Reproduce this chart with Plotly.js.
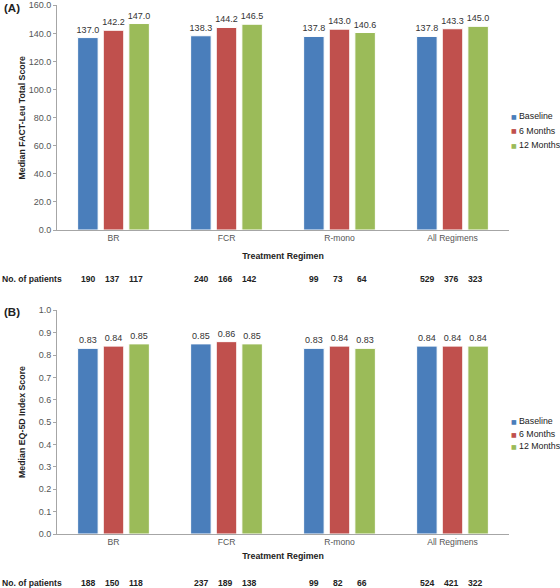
<!DOCTYPE html>
<html>
<head>
<meta charset="utf-8">
<script src="https://cdn.plot.ly/plotly-3.0.1.min.js"></script>
<style>html,body{margin:0;padding:0;background:#fff}#chart{width:560px;height:588px}</style>
</head>
<body>
<div id="chart"></div>
<script>
// ---- data ----
var categories = ['BR', 'FCR', 'R-mono', 'All Regimens'];
var seriesNames = ['Baseline', '6 Months', '12 Months'];

var factBaseline = [137.0, 138.3, 137.8, 137.8];
var fact6Months = [142.2, 144.2, 143.0, 143.3];
var fact12Months = [147.0, 146.5, 140.6, 145.0];

var eqBaseline = [0.83, 0.85, 0.83, 0.84];
var eq6Months = [0.84, 0.86, 0.84, 0.84];
var eq12Months = [0.85, 0.85, 0.83, 0.84];

var factPatientsBaseline = [190, 240, 99, 529];
var factPatients6Months = [137, 166, 73, 376];
var factPatients12Months = [117, 142, 64, 323];

var eqPatientsBaseline = [188, 237, 99, 524];
var eqPatients6Months = [150, 189, 82, 421];
var eqPatients12Months = [118, 138, 66, 322];

var panelLabels = ['(A)', '(B)'];
var yTitles = ['Median FACT-Leu Total Score', 'Median EQ-5D Index Score'];
var xTitle = 'Treatment Regimen';
var patientsLabel = 'No. of patients';

// ---- styles ----
var colors = ['#4a7ebb', '#c0504d', '#9bbb59'];
var FONT = 'Liberation Sans, Arial, Helvetica, sans-serif';
var tickColor = '#555555';
var darkText = '#222222';
var lineColor = '#a6a6a6';

var W = 560, H = 588;
function px(x) { return x / W; }
function py(y) { return (H - y) / H; }

var factSeries = [factBaseline, fact6Months, fact12Months];
var eqSeries = [eqBaseline, eq6Months, eq12Months];
var factPatients = [factPatientsBaseline, factPatients6Months, factPatients12Months];
var eqPatients = [eqPatientsBaseline, eqPatients6Months, eqPatients12Months];

var traces = [];
function addBars(series, xa, ya, fmt) {
  series.forEach(function (vals, i) {
    traces.push({
      type: 'bar', x: categories, y: vals, name: seriesNames[i],
      xaxis: xa, yaxis: ya, showlegend: false,
      marker: {color: colors[i], line: {color: '#ffffff', width: 1}},
      texttemplate: '%{y:' + fmt + '}', textposition: 'outside', constraintext: 'none',
      textfont: {family: FONT, size: 9, color: '#333333'},
      cliponaxis: false, hoverinfo: 'x+y+name'
    });
  });
}
addBars(factSeries, 'x', 'y', '.1f');
addBars(eqSeries, 'x2', 'y2', '.2f');

var annotations = [];
function addPanel(label, labelY, yTitle, titleY, legendYs) {
  annotations.push({xref: 'paper', yref: 'paper', x: px(2), y: py(labelY), xanchor: 'left', yanchor: 'middle',
    text: '<b>' + label + '</b>', showarrow: false, font: {family: FONT, size: 11.5, color: darkText}});
  annotations.push({xref: 'paper', yref: 'paper', x: px(22), y: py(titleY), xanchor: 'center', yanchor: 'middle',
    textangle: -90, text: '<b>' + yTitle + '</b>', showarrow: false, font: {family: FONT, size: 8.8, color: darkText}});
  seriesNames.forEach(function (nm, i) {
    annotations.push({xref: 'paper', yref: 'paper', x: px(514), y: py(legendYs[i]), xanchor: 'center', yanchor: 'middle',
      text: '\u25A0', showarrow: false, font: {family: 'DejaVu Sans, sans-serif', size: 6, color: colors[i]}});
    annotations.push({xref: 'paper', yref: 'paper', x: px(517), y: py(legendYs[i]), xanchor: 'left', yanchor: 'middle',
      text: nm, showarrow: false, font: {family: FONT, size: 8.8, color: darkText}});
  });
}
addPanel(panelLabels[0], 8, yTitles[0], 117.5, [116, 131, 145]);
addPanel(panelLabels[1], 312, yTitles[1], 422, [421, 434, 446]);

function addPatients(patients, xa, rowY) {
  annotations.push({xref: 'paper', yref: 'paper', x: 0, y: py(rowY), xanchor: 'left', yanchor: 'middle',
    text: '<b>' + patientsLabel + '</b>', showarrow: false, font: {family: FONT, size: 8.6, color: darkText}});
  var shifts = [-25.5, -1.5, 22.5];
  patients.forEach(function (vals, i) {
    vals.forEach(function (n, c) {
      annotations.push({xref: xa, yref: 'paper', x: categories[c], y: py(rowY), xshift: shifts[i],
        xanchor: 'center', yanchor: 'middle', text: '<b>' + n + '</b>', showarrow: false,
        font: {family: FONT, size: 8.6, color: darkText}});
    });
  });
}
addPatients(factPatients, 'x', 279);
addPatients(eqPatients, 'x2', 583);

function xAxis(anchor, standoff) {
  return {
    domain: [px(57), px(509)], anchor: anchor, type: 'category', categoryorder: 'array', categoryarray: categories,
    showline: true, linecolor: lineColor, linewidth: 1, ticks: '', showgrid: false, zeroline: false,
    tickfont: {family: FONT, size: 8.6, color: tickColor}, fixedrange: true, automargin: false,
    title: {text: '<b>' + xTitle + '</b>', font: {family: FONT, size: 8.8, color: darkText}, standoff: standoff}
  };
}
function yAxis(anchor, domain, range, dtick, fmt) {
  return {
    domain: domain, anchor: anchor, range: range, dtick: dtick, tick0: 0, tickformat: fmt,
    showline: true, linecolor: lineColor, linewidth: 1, ticks: 'outside', ticklen: 3, tickcolor: lineColor,
    showgrid: false, zeroline: false, automargin: false, tickfont: {family: FONT, size: 9, color: tickColor}
  };
}

var layout = {
  width: W, height: H,
  margin: {l: 0, r: 0, t: 0, b: 0},
  paper_bgcolor: '#ffffff', plot_bgcolor: '#ffffff',
  font: {family: FONT, size: 9, color: '#333'},
  barmode: 'group', bargap: 0.32, bargroupgap: 0.2,
  showlegend: false,
  xaxis: xAxis('y', 10),
  yaxis: yAxis('x', [py(230), py(5)], [0, 160.2], 20, '.1f'),
  xaxis2: xAxis('y2', 6),
  yaxis2: yAxis('x2', [py(534), py(310)], [0, 1.0015], 0.1, '.1f'),
  annotations: annotations
};

Plotly.newPlot('chart', traces, layout, {displayModeBar: false, staticPlot: true});
</script>
</body>
</html>
